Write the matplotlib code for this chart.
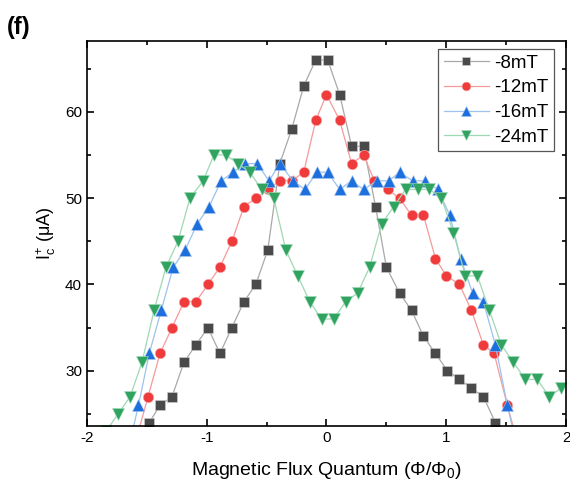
import matplotlib
matplotlib.use("Agg")
from matplotlib import pyplot as plt
from matplotlib.ticker import MultipleLocator

plt.rcParams['font.family'] = ['Liberation Sans', 'DejaVu Sans']
plt.rcParams['mathtext.fontset'] = 'custom'
plt.rcParams['mathtext.rm'] = 'Liberation Sans'
plt.rcParams['mathtext.it'] = 'Liberation Sans:italic'
plt.rcParams['axes.unicode_minus'] = False

# -8mT
x_8 = [-1.48, -1.39, -1.29, -1.19, -1.09, -0.99, -0.89, -0.79, -0.69, -0.59,
       -0.49, -0.39, -0.29, -0.19, -0.09, 0.01, 0.11, 0.21, 0.31, 0.41,
       0.50, 0.61, 0.71, 0.81, 0.91, 1.01, 1.11, 1.21, 1.31, 1.41]
y_8 = [24, 26, 27, 31, 33, 35, 32, 35, 38, 40,
       44, 54, 58, 63, 66, 66, 62, 56, 56, 49,
       42, 39, 37, 34, 32, 30, 29, 28, 27, 24]

# -12mT
x_12 = [-1.59, -1.49, -1.39, -1.29, -1.19, -1.09, -0.99, -0.89, -0.79, -0.69,
        -0.59, -0.49, -0.39, -0.29, -0.19, -0.09, 0.00, 0.11, 0.21, 0.31,
        0.40, 0.51, 0.61, 0.71, 0.81, 0.91, 1.00, 1.11, 1.21, 1.31,
        1.40, 1.51, 1.61]
y_12 = [22, 27, 32, 35, 38, 38, 40, 42, 45, 49,
        50, 51, 52, 52, 53, 59, 62, 59, 54, 55,
        52, 51, 50, 48, 48, 43, 41, 40, 37, 33,
        32, 26, 21]

# -16mT
x_16 = [-1.67, -1.57, -1.48, -1.38, -1.28, -1.18, -1.08, -0.98, -0.88, -0.78,
        -0.68, -0.58, -0.48, -0.39, -0.28, -0.18, -0.08, 0.01, 0.11, 0.21,
        0.31, 0.42, 0.52, 0.61, 0.72, 0.82, 0.93, 1.03, 1.12, 1.22,
        1.31, 1.41, 1.51, 1.61]
y_16 = [20, 26, 32, 37, 42, 44, 47, 49, 52, 53,
        54, 54, 52, 54, 52, 51, 53, 53, 51, 52,
        51, 52, 52, 53, 52, 52, 51, 48, 43, 39,
        38, 33, 26, 20]

# -24mT
x_24 = [-1.84, -1.74, -1.64, -1.54, -1.44, -1.34, -1.24, -1.14, -1.03, -0.94,
        -0.84, -0.74, -0.64, -0.54, -0.44, -0.34, -0.24, -0.14, -0.04, 0.06,
        0.16, 0.26, 0.36, 0.46, 0.56, 0.66, 0.76, 0.86, 0.96, 1.06,
        1.16, 1.26, 1.36, 1.46, 1.56, 1.66, 1.76, 1.86, 1.96]
y_24 = [23, 25, 27, 31, 37, 42, 45, 50, 52, 55,
        55, 54, 53, 51, 50, 44, 41, 38, 36, 36,
        38, 39, 42, 47, 49, 51, 51, 51, 50, 46,
        41, 41, 37, 33, 31, 29, 29, 27, 28]

fig = plt.figure(figsize=(5.7, 4.9), dpi=100)
ax = fig.add_axes([0.1526, 0.1306, 0.8404, 0.7857])

ax.plot(x_8, y_8, color='#a8a8a8', lw=0.9, marker='s', ms=6.5,
        mfc='#4a4a4a', mec='#d0d0d0', mew=0.4, label='-8mT')
ax.plot(x_12, y_12, color='#f49a9a', lw=0.9, marker='o', ms=7.5,
        mfc='#ef3b3b', mec='#f6b0b0', mew=0.4, label='-12mT')
ax.plot(x_16, y_16, color='#9cc2ee', lw=0.9, marker='^', ms=8,
        mfc='#1c6fdc', mec='#a8c8f0', mew=0.4, label='-16mT')
ax.plot(x_24, y_24, color='#9fd8b5', lw=0.9, marker='v', ms=8,
        mfc='#2fa35f', mec='#a8dcbc', mew=0.4, label='-24mT')

ax.set_xlim(-2, 2)
ax.set_ylim(23.6, 68.2)
ax.xaxis.set_major_locator(MultipleLocator(1))
ax.xaxis.set_minor_locator(MultipleLocator(0.5))
ax.yaxis.set_major_locator(MultipleLocator(10))
ax.yaxis.set_minor_locator(MultipleLocator(5))
ax.tick_params(which='both', direction='in', top=True, right=True,
               labelsize=11, width=1.2)
ax.tick_params(which='major', length=5)
ax.tick_params(which='minor', length=3)
for s in ax.spines.values():
    s.set_linewidth(1.2)

ax.set_xlabel(r'Magnetic Flux Quantum (Φ/Φ$_\mathregular{0}$)', fontsize=14, labelpad=11)
ax.set_ylabel(r'I$_\mathregular{c}^\mathregular{+}$ (μA)', fontsize=13, labelpad=5)

leg = ax.legend(loc='upper right', bbox_to_anchor=(0.975, 0.979), borderaxespad=0,
                fontsize=13.5, handlelength=2.4, handletextpad=0.3, borderpad=0.3,
                labelspacing=0.4, fancybox=False, framealpha=1,
                edgecolor='#555555', markerscale=0.85)
leg.get_frame().set_linewidth(0.9)

fig.text(0.012, 0.93, '(f)', fontsize=17, fontweight='bold')

fig.savefig('out.png', dpi=100)
